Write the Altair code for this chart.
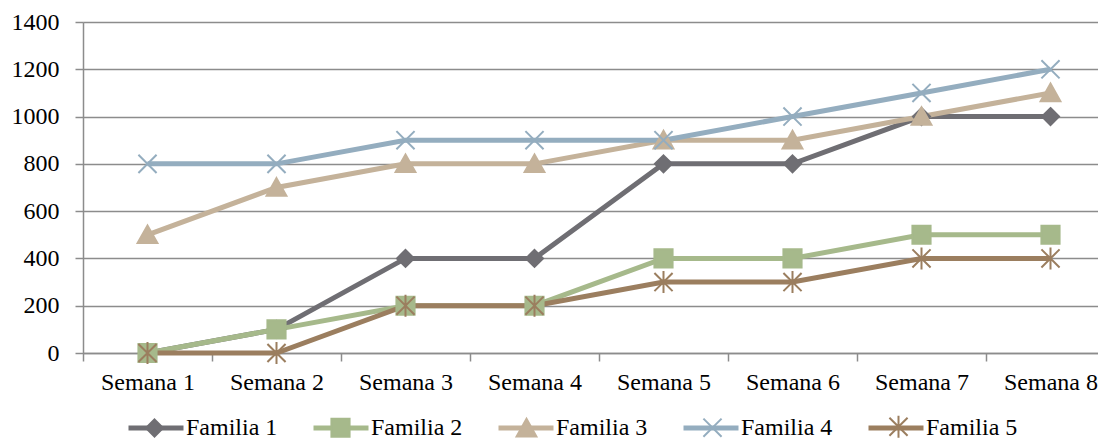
import altair as alt
import pandas as pd

semanas = ["Semana 1", "Semana 2", "Semana 3", "Semana 4", "Semana 5", "Semana 6", "Semana 7", "Semana 8"]
series = ["Familia 1", "Familia 2", "Familia 3", "Familia 4", "Familia 5"]
familia1 = [0, 100, 400, 400, 800, 800, 1000, 1000]
familia2 = [0, 100, 200, 200, 400, 400, 500, 500]
familia3 = [500, 700, 800, 800, 900, 900, 1000, 1100]
familia4 = [800, 800, 900, 900, 900, 1000, 1100, 1200]
familia5 = [0, 0, 200, 200, 300, 300, 400, 400]
y_ticks = [0, 200, 400, 600, 800, 1000, 1200, 1400]

colors = ["#6f6e73", "#a6b98b", "#c4b29a", "#94adbf", "#9b7e5f"]
fills = ["#6f6e73", "#a6b98b", "#c4b29a", "transparent", "transparent"]
# leading moves widen every shape's bounds to the legend line's width
PAD = "M-1,0M1,0"
shapes = [
    PAD + "M0,-0.31L0.31,0L0,0.31L-0.31,0Z",
    PAD + "M-0.33,-0.33H0.33V0.33H-0.33Z",
    PAD + "M0,-0.34L0.36,0.3H-0.36Z",
    PAD + "M-0.33,-0.33L0.33,0.33M-0.33,0.33L0.33,-0.33",
    PAD + "M-0.33,-0.33L0.33,0.33M-0.33,0.33L0.33,-0.33M0,-0.4V0.4",
]

# line-legend keys (distinct domain so the two legends are not merged)
line_keys = ["L" + s.split(" ")[1] for s in series]

rows = []
for name, key, vals in zip(series, line_keys, [familia1, familia2, familia3, familia4, familia5]):
    for s, v in zip(semanas, vals):
        rows.append({"semana": s, "serie": name, "serie_l": key, "valor": v})
df = pd.DataFrame(rows)

FONT = "Liberation Serif"
FS = 24
SYM = 3025

x_enc = alt.X(
    "semana:N",
    sort=semanas,
    title=None,
    scale=alt.Scale(type="band", range=[0, 1032], paddingInner=0, paddingOuter=0),
    axis=alt.Axis(
        labelAngle=0, tickBand="extent", tickSize=8, tickColor="#8c8c8c",
        domainColor="#8c8c8c", domainWidth=1.5, tickWidth=1.5, labelPadding=9,
        labelFont=FONT, labelFontSize=FS, labelColor="#000000", grid=False,
    ),
)
y_enc = alt.Y(
    "valor:Q",
    title=None,
    scale=alt.Scale(domain=[0, 1400], nice=False),
    axis=alt.Axis(
        values=y_ticks, format="d", tickSize=8, tickColor="#8c8c8c", domainColor="#8c8c8c",
        domainWidth=1.5, tickWidth=1.5, gridColor="#8c8c8c", gridWidth=1.5,
        labelPadding=16, labelFont=FONT, labelFontSize=FS, labelColor="#000000",
    ),
)

legend_common = dict(
    orient="none", legendX=43, legendY=376, direction="horizontal", columns=5,
    labelOffset=0, labelFont=FONT, labelFontSize=FS,
    title=None, symbolSize=SYM, labelLimit=200,
)

lines = alt.Chart(df).mark_line(strokeWidth=5).encode(
    x=x_enc,
    y=y_enc,
    color=alt.Color(
        "serie_l:N",
        scale=alt.Scale(domain=line_keys, range=colors),
        legend=alt.Legend(
            symbolType="M-1,0H1", symbolStrokeWidth=5, zindex=0, columnPadding=25,
            labelColor="#000000",
            labelExpr="'Familia ' + slice(datum.label, 1)", **legend_common,
        ),
    ),
)

pts = alt.Chart(df).mark_point(size=SYM, strokeWidth=2, opacity=1, filled=False).encode(
    x=x_enc,
    y=y_enc,
    shape=alt.Shape(
        "serie:N",
        scale=alt.Scale(domain=series, range=shapes),
        legend=alt.Legend(symbolStrokeWidth=2, zindex=1, columnPadding=123,
                          labelExpr="''", **legend_common),
    ),
    fill=alt.Fill("serie:N", scale=alt.Scale(domain=series, range=fills)),
    stroke=alt.Stroke("serie:N", scale=alt.Scale(domain=series, range=colors)),
)

chart = alt.layer(lines, pts).properties(
    width=1015,
    height=331,
    autosize=alt.AutoSizeParams(type="none"),
    padding={"left": 75, "top": 14, "right": 0, "bottom": 85},
).configure_view(stroke=None).configure(background="#ffffff")

chart.save("out.html", embed_options={"renderer": "svg", "actions": False})
